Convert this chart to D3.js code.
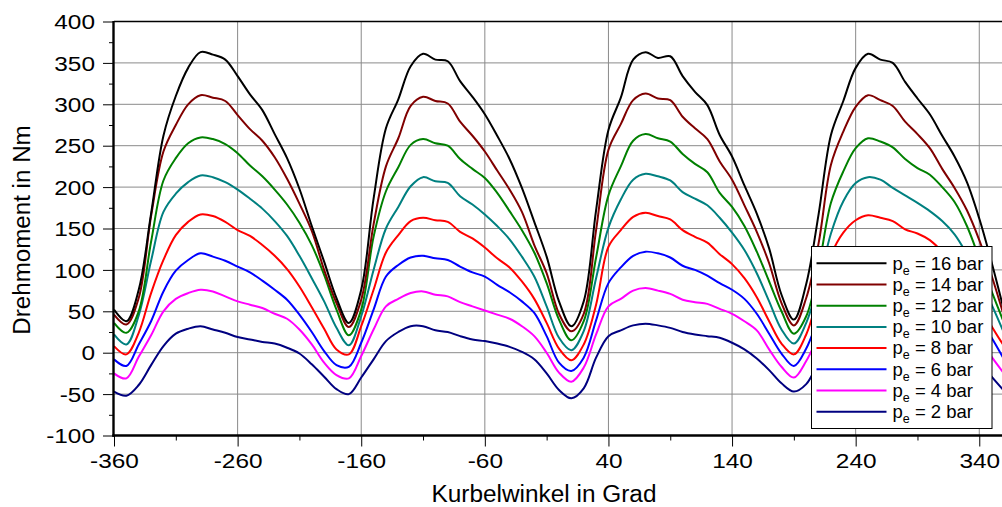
<!DOCTYPE html>
<html><head><meta charset="utf-8">
<script src="https://cdn.jsdelivr.net/npm/d3@7"></script>
<style>
html,body{margin:0;padding:0;background:#fff;}
svg{display:block;}
text{font-family:"Liberation Sans",Arial,sans-serif;fill:#000;}
</style>
</head><body>
<svg id="c" width="1002" height="507"></svg>
<script>
// ---------- DATA ----------
const angles = [-360,-350,-340,-330,-320,-310,-300,-290,-280,-270,-260,-250,-240,-230,-220,-210,-200,-190,-180,
  -170,-160,-150,-140,-130,-120,-110,-100,-90,-80,-70,-60,-50,-40,-30,-20,-10,0,
  10,20,30,40,50,60,70,80,90,100,110,120,130,140,150,160,170,180,
  190,200,210,220,230,240,250,260,270,280,290,300,310,320,330,340,350,360];

const p16 = [52,38,76,168,262,310,344,363,360,354,334,312,293,264,235,198,153,110,66,
  36,76,186,271,306,346,361,354,352,328,309,288,262,234,199,158,116,62,
  32,62,172,269,308,354,363,356,358,334,315,299,263,237,202,168,126,70,
  40,83,167,263,304,344,361,354,350,327,307,288,262,237,206,162,109,51];
const p14 = [46,34,66,165,243,275,300,311,308,304,287,270,256,236,210,180,147,100,60,
  31,64,155,225,259,298,309,304,301,279,262,243,220,197,170,130,96,47,
  26,47,148,245,276,305,313,307,305,285,271,258,231,209,178,146,108,60,
  33,66,132,227,267,297,311,305,298,279,264,247,222,199,172,136,93,44];
const p12 = [36,24,50,134,208,235,253,260,258,252,241,226,213,197,179,157,130,94,52,
  21,52,140,195,224,251,258,253,250,234,222,211,193,171,148,121,84,40,
  15,38,115,190,225,256,264,259,255,240,228,218,193,176,153,122,86,50,
  23,44,103,181,219,247,259,255,248,234,223,215,200,182,153,114,74,36];
const p10 = [22,10,45,111,170,192,206,214,212,206,197,186,174,159,141,117,90,62,30,
  9,44,100,150,176,201,212,207,205,189,179,167,153,137,116,92,56,18,
  3,26,90,151,185,209,216,213,208,194,186,178,163,145,124,96,62,28,
  11,36,84,144,183,205,212,209,199,190,181,171,159,143,119,91,58,24];
const p8 = [8,-2,24,72,112,142,158,167,165,158,148,141,130,117,101,80,55,29,4,
  -2,32,76,121,142,159,163,160,158,146,138,127,114,103,86,65,36,5,
  -9,10,58,128,148,164,169,165,161,148,140,133,119,107,90,67,38,11,
  -2,22,70,118,145,160,166,163,159,149,144,136,122,104,84,60,32,8];
const p6 = [-8,-16,10,38,74,99,112,120,116,111,104,97,87,76,64,46,25,2,-15,
  -17,12,52,92,106,115,117,114,112,104,97,92,82,73,62,48,20,-12,
  -22,-6,39,84,103,117,122,120,115,105,100,93,84,76,65,47,23,-1,
  -16,5,42,78,101,114,120,117,113,106,98,91,82,72,60,42,18,-8];
const p4 = [-25,-31,-5,21,50,65,72,76,74,68,62,58,54,47,41,28,10,-12,-27,
  -31,-4,28,56,65,72,74,70,68,61,56,51,46,41,32,20,0,-24,
  -35,-18,22,56,65,75,78,75,71,64,61,59,53,47,38,27,4,-17,
  -30,-10,20,50,65,72,76,74,71,65,59,55,49,42,33,17,-5,-25];
const p2 = [-47,-52,-39,-15,8,23,29,32,28,24,19,16,13,11,6,-1,-14,-29,-44,
  -50,-30,-8,14,25,32,32,27,25,20,16,14,11,7,1,-8,-25,-45,
  -55,-43,-6,20,27,33,35,33,30,25,22,20,18,12,4,-7,-21,-37,
  -47,-38,-12,10,23,29,32,30,27,22,18,15,12,8,1,-10,-29,-46];

const pressures = [16,14,12,10,8,6,4,2];
const xTicks = [-360,-260,-160,-60,40,140,240,340];
const xMinorTicks = [-310,-210,-110,-10,90,190,290];
const yTicks = [-100,-50,0,50,100,150,200,250,300,350,400];
const yMinorTicks = [-75,-25,25,75,125,175,225,275,325,375];
const xTitle = "Kurbelwinkel in Grad";
const yTitle = "Drehmoment in Nm";

// ---------- STYLE ----------
const colors = ["#000000","#800000","#008000","#008080","#ff0000","#0000ff","#ff00ff","#000080"];
const seriesValues = [p16,p14,p12,p10,p8,p6,p4,p2];

const series = pressures.map((p,i)=>({
  label: p,
  color: colors[i],
  values: angles.map((a,j)=>({x:a, y:seriesValues[i][j]}))
}));

const svg = d3.select("#c");
const L = 114, R = 1004, T = 21.5, B = 435.5;
const x = d3.scaleLinear().domain([-360,360]).range([L,R]);
const y = d3.scaleLinear().domain([-100,400]).range([B,T]);

svg.append("rect").attr("width",1002).attr("height",507).attr("fill","#fff");

svg.append("defs").append("clipPath").attr("id","clip")
  .append("rect").attr("x",L).attr("y",T).attr("width",R-L).attr("height",B-T);

// grid
const grid = svg.append("g").attr("stroke","#8a8a8a").attr("stroke-width",1);
grid.selectAll("line.h").data(yTicks.filter(v=>v>-100 && v<400)).enter().append("line")
  .attr("x1",L).attr("x2",R).attr("y1",d=>y(d)).attr("y2",d=>y(d));
grid.selectAll("line.v").data(xTicks.filter(v=>v>-360)).enter().append("line")
  .attr("y1",T).attr("y2",B).attr("x1",d=>x(d)).attr("x2",d=>x(d));

// lines
const line = d3.line().x(d=>x(d.x)).y(d=>y(d.y)).curve(d3.curveCatmullRom.alpha(0.5));
const lg = svg.append("g").attr("clip-path","url(#clip)");
lg.selectAll("path").data(series.slice().reverse()).enter().append("path")
  .attr("d",d=>line(d.values)).attr("fill","none")
  .attr("stroke",d=>d.color).attr("stroke-width",2).attr("stroke-linejoin","round");

// top border
svg.append("line").attr("x1",L).attr("x2",R).attr("y1",T).attr("y2",T)
  .attr("stroke","#000").attr("stroke-width",1.5);

// axes
const tickFont = 20, tickStretch = 1.22;
function stretch(sel, k){
  sel.each(function(){
    const w = this.getComputedTextLength();
    d3.select(this).attr("textLength", w*k).attr("lengthAdjust","spacingAndGlyphs");
  });
}
const yAxis = svg.append("g").attr("transform",`translate(${L},0)`)
  .call(d3.axisLeft(y).tickValues(yTicks).tickSize(11).tickSizeOuter(0).tickPadding(8).tickFormat(d3.format("d")));
const yMinor = svg.append("g").attr("transform",`translate(${L},0)`)
  .call(d3.axisLeft(y).tickValues(yMinorTicks).tickSize(5).tickSizeOuter(0).tickFormat(""));
const xAxis = svg.append("g").attr("transform",`translate(0,${B})`)
  .call(d3.axisBottom(x).tickValues(xTicks).tickSize(11).tickSizeOuter(0).tickPadding(7).tickFormat(d3.format("d")));
const xMinor = svg.append("g").attr("transform",`translate(0,${B})`)
  .call(d3.axisBottom(x).tickValues(xMinorTicks).tickSize(5).tickSizeOuter(0).tickFormat(""));
[yAxis,yMinor,xAxis,xMinor].forEach(g=>{
  g.select(".domain").remove();
  g.selectAll(".tick line").attr("stroke","#000").attr("stroke-width",1);
  g.selectAll("text").attr("font-size",tickFont).attr("font-family","Liberation Sans, Arial, sans-serif").attr("fill","#000");
});
yAxis.selectAll("text").attr("dy","0.36em");
[yAxis,xAxis].forEach(g=>g.selectAll("text").text(function(){return d3.select(this).text().replace("\u2212","-");}));
stretch(yAxis.selectAll("text"), tickStretch);
stretch(xAxis.selectAll("text"), tickStretch);

// axis lines
svg.append("line").attr("x1",L-0.5).attr("x2",L-0.5).attr("y1",T-0.5).attr("y2",B+1.2)
  .attr("stroke","#000").attr("stroke-width",2.4);
svg.append("line").attr("x1",L-1.7).attr("x2",1002).attr("y1",B).attr("y2",B)
  .attr("stroke","#000").attr("stroke-width",2.4);

// titles
const xt = svg.append("text").attr("x",544).attr("y",502).attr("text-anchor","middle")
  .attr("font-size",23).text(xTitle);
stretch(xt, 1.06);
const yt = svg.append("text").attr("transform","translate(29.5,230) rotate(-90)")
  .attr("text-anchor","middle").attr("font-size",23).text(yTitle);
stretch(yt, 1.05);

// legend
const lgX = 811.5, lgY = 246.5, lgW = 180.5, lgH = 182;
const leg = svg.append("g");
leg.append("rect").attr("x",lgX).attr("y",lgY).attr("width",lgW).attr("height",lgH)
  .attr("fill","#fff").attr("stroke","#000").attr("stroke-width",1);
const rowY = i => 263.3 + i*21.2;
const items = leg.selectAll("g.item").data(series).enter().append("g");
items.append("line").attr("x1",816.5).attr("x2",886.5)
  .attr("y1",(d,i)=>rowY(i)).attr("y2",(d,i)=>rowY(i))
  .attr("stroke",d=>d.color).attr("stroke-width",2);
const tx = items.append("text").attr("x",892.5).attr("y",(d,i)=>rowY(i)+6.3)
  .attr("font-size",18.5).style("white-space","pre");
tx.append("tspan").text("p");
tx.append("tspan").attr("font-size",12.5).attr("dy",5).text("e");
tx.append("tspan").attr("dy",-5).text(d=>` = ${d.label} bar`);
</script>
</body></html>
